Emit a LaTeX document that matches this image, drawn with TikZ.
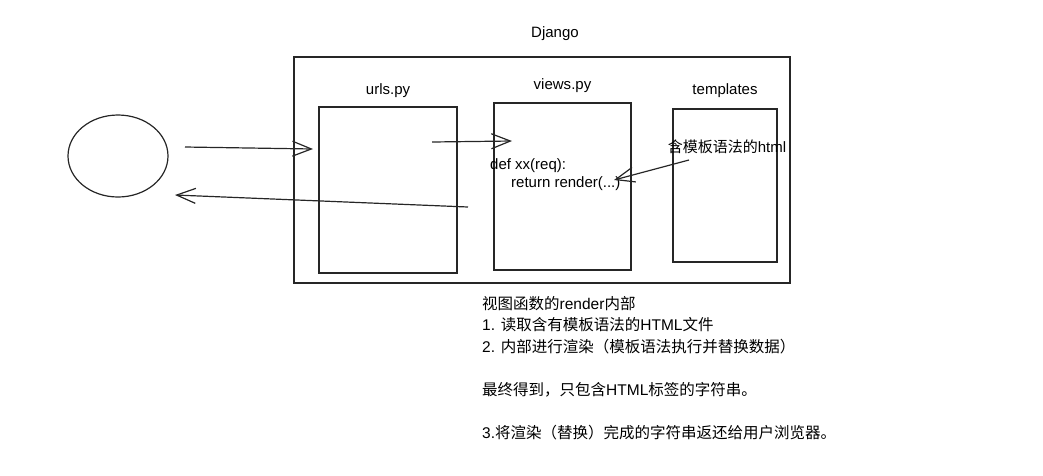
\documentclass[tikz,border=0pt]{standalone}
\usepackage{fontspec}
\setmainfont{Liberation Sans}
\newfontfamily\cjk{Noto Sans CJK SC}
\usetikzlibrary{arrows.meta,positioning,shapes.geometric}

\tikzset{
  box/.style={draw=black!85, line width=1.2pt, inner sep=0pt},
  lbl/.style={font=\fontsize{15}{17}\selectfont},
  arr/.style={draw=black!85, line width=1.2pt, -{Straight Barb[length=19pt,width=15pt,line width=1.2pt]}}
}

\begin{document}
\begin{tikzpicture}[x=1pt, y=-1pt]
  \useasboundingbox (0,0) rectangle (1043,475);

  % Client
  \node[box, ellipse, minimum width=100pt, minimum height=82pt] (client) at (118,156) {};

  % Django and its parts
  \node[box, minimum width=496pt, minimum height=226pt] (django) at (542,170) {};
  \node[lbl] (djangolbl) at (555,34) {Django};

  \node[box, minimum width=138pt, minimum height=166pt] (urls) at (388,190) {};
  \node[box, minimum width=137pt, minimum height=167pt] (views) at (562.5,186.5) {};
  \node[box, minimum width=104pt, minimum height=153pt] (tpl) at (725,185.5) {};
  \node[lbl, above=5pt of urls.north] (urlslbl) {urls.py};
  \node[lbl, above=6pt of views.north] (viewslbl) {views.py};
  \node[lbl, above=7pt of tpl.north] (tpllbl) {templates};

  % Texts inside the boxes
  \node[lbl, anchor=west, inner sep=0pt] (def) at (490,166) {def xx(req):};
  \node[lbl, anchor=west, inner sep=0pt] (ret) at (511,184) {return render(...)};
  \node[lbl, inner sep=0pt] (html) at (727,147) {{\cjk 含模板语法的}html};

  % Connector ends
  \coordinate (c1) at (185,147);
  \coordinate (u1) at (313,149);
  \coordinate (u2) at (432,142);
  \coordinate (v1) at (512,141);
  \coordinate (u3) at (468,207);
  \coordinate (c2) at (175,195);
  \coordinate (h1) at (689,160);
  \coordinate (r1) at (614,180);

  % Request and response
  \draw[arr] (c1) -- (u1);
  \draw[arr] (u2) -- (v1);
  \draw[arr] (u3) -- (c2);
  \draw[arr] (h1) -- (r1);

  % Explanation
  \node[lbl, anchor=north west, align=left, inner sep=0pt,
        font=\fontsize{15.5}{21.5}\selectfont] (note) at (482,296) {%
    {\cjk 视图函数的}render{\cjk 内部}\\
    1. {\cjk 读取含有模板语法的}HTML{\cjk 文件}\\
    2. {\cjk 内部进行渲染（模板语法执行并替换数据）}\\
    \mbox{}\\
    {\cjk 最终得到，只包含}HTML{\cjk 标签的字符串。}\\
    \mbox{}\\
    3.{\cjk 将渲染（替换）完成的字符串返还给用户浏览器。}};
\end{tikzpicture}
\end{document}
